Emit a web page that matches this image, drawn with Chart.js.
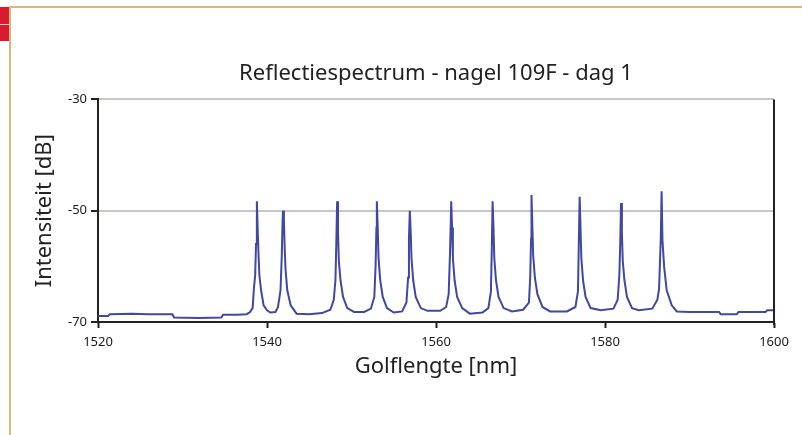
<!DOCTYPE html>
<html>
<head>
<meta charset="utf-8">
<script src="https://cdn.jsdelivr.net/npm/chart.js@4"></script>
<style>
	html, body { margin: 0; padding: 0; background: #fff; }
	canvas { display: block; }
</style>
</head>
<body>
<canvas id="spectrumChart" width="802" height="435"></canvas>
<script>
// wavelength [nm] and intensity [dB]
let wavelength = [
	1520.0, 1521.2, 1521.4, 1524.0, 1526.0, 1528.8, 1529.0, 1532.0, 1534.6, 1534.8, 1536.5, 1537.6,
	1538.0, 1538.3, 1538.45, 1538.6, 1538.7, 1538.8, 1538.9, 1539.0, 1539.1, 1539.3, 1539.6, 1540.0, 1540.4,
	1541.0, 1541.3, 1541.6, 1541.75, 1541.85, 1541.9, 1542.0, 1542.1, 1542.2, 1542.4, 1542.8, 1543.5,
	1545.0, 1546.5, 1547.5, 1547.9, 1548.1, 1548.2, 1548.3, 1548.4, 1548.5, 1548.7, 1549.0, 1549.5, 1550.3,
	1551.5, 1552.3, 1552.7, 1552.85, 1552.95, 1553.0, 1553.1, 1553.2, 1553.4, 1553.7, 1554.2, 1555.0,
	1556.0, 1556.5, 1556.7, 1556.8, 1556.9, 1557.0, 1557.1, 1557.3, 1557.6, 1558.2, 1559.0,
	1560.5, 1561.2, 1561.5, 1561.65, 1561.75, 1561.8, 1561.9, 1562.0, 1562.2, 1562.5, 1563.1, 1564.0,
	1565.5, 1566.2, 1566.5, 1566.6, 1566.7, 1566.8, 1566.9, 1567.1, 1567.4, 1568.0, 1569.0,
	1570.3, 1571.0, 1571.15, 1571.25, 1571.3, 1571.4, 1571.5, 1571.7, 1572.0, 1572.6, 1573.5,
	1575.5, 1576.5, 1576.8, 1576.9, 1577.0, 1577.1, 1577.2, 1577.4, 1577.7, 1578.3, 1579.5,
	1581.0, 1581.5, 1581.7, 1581.8, 1581.9, 1582.0, 1582.1, 1582.3, 1582.6, 1583.2, 1584.0,
	1585.6, 1586.2, 1586.4, 1586.6, 1586.7, 1586.8, 1587.0, 1587.3, 1587.9, 1588.5,
	1590.0, 1593.5, 1593.7, 1595.6, 1595.8, 1599.0, 1599.2, 1600.0
];
let intensity = [
	-68.9, -68.9, -68.6, -68.5, -68.6, -68.6, -69.2, -69.3, -69.2, -68.7, -68.7, -68.6,
	-68.2, -67.5, -64.0, -61.6, -56.0, -48.3, -53.5, -58.0, -61.6, -64.3, -67.0, -67.9, -68.3,
	-68.2, -67.3, -64.3, -58.0, -51.5, -50.0, -51.7, -57.0, -60.7, -64.3, -67.0, -68.5,
	-68.6, -68.4, -67.8, -66.0, -62.5, -56.0, -48.3, -53.5, -59.0, -62.5, -65.5, -67.5, -68.2,
	-68.2, -67.6, -65.5, -60.0, -53.0, -48.3, -53.0, -58.5, -62.5, -65.5, -67.5, -68.3,
	-68.1, -66.5, -62.0, -55.0, -50.0, -53.5, -58.5, -62.5, -65.5, -67.5, -68.0,
	-68.0, -67.3, -65.0, -58.0, -52.0, -48.3, -53.0, -58.5, -62.5, -65.5, -67.5, -68.5,
	-68.3, -67.5, -64.5, -57.0, -48.3, -53.0, -58.5, -62.5, -65.5, -67.5, -68.1,
	-67.8, -66.5, -62.0, -55.0, -47.2, -52.5, -58.0, -62.0, -65.0, -67.3, -68.1,
	-68.1, -67.3, -64.5, -56.0, -47.5, -53.0, -58.5, -62.5, -65.5, -67.5, -67.9,
	-67.6, -66.0, -61.5, -56.0, -48.6, -54.0, -59.0, -62.5, -65.5, -67.5, -67.9,
	-67.6, -66.0, -64.0, -55.0, -46.5, -55.3, -60.1, -64.3, -67.0, -68.1,
	-68.2, -68.2, -68.6, -68.6, -68.2, -68.2, -67.9, -67.9
];
let xTicks = [1520, 1540, 1560, 1580, 1600];
let yTicks = [-70, -50, -30];

let points = wavelength.map(function (w, i) {
	return { x: w, y: intensity[i] };
});

let framePlugin = {
	id: 'frame',
	beforeDraw: function (chart) {
		let ctx = chart.ctx;
		ctx.save();
		ctx.fillStyle = '#ffffff';
		ctx.fillRect(0, 0, chart.width, chart.height);
		// page decoration: tan rule on top and left, red tab
		ctx.fillStyle = '#d8b878';
		ctx.fillRect(9, 6, chart.width - 9, 2);
		ctx.fillRect(9, 6, 2, chart.height - 6);
		ctx.fillStyle = '#da1a2e';
		ctx.fillRect(0, 7, 9, 34);
		ctx.fillStyle = '#f3c4c8';
		ctx.fillRect(0, 24, 9, 1);
		ctx.restore();
	},
	afterDraw: function (chart) {
		let a = chart.chartArea;
		let ctx = chart.ctx;
		ctx.save();
		ctx.strokeStyle = '#222';
		ctx.lineWidth = 2;
		ctx.beginPath();
		ctx.moveTo(a.right, a.top);
		ctx.lineTo(a.right, a.bottom + 3);
		ctx.stroke();
		ctx.restore();
	}
};

let fontFamily = '"Noto Sans", "Open Sans", sans-serif';

let chart = new Chart("spectrumChart", {
	type: "scatter",
	data: {
		datasets: [{
			data: points,
			showLine: true,
			borderColor: "#3f48a2",
			borderWidth: 2,
			pointRadius: 0,
			tension: 0
		}]
	},
	options: {
		responsive: false,
		animation: false,
		layout: { padding: { left: 0, right: 28, top: 0, bottom: 0 } },
		plugins: {
			legend: { display: false },
			tooltip: { enabled: false },
			title: {
				display: true,
				fullSize: false,
				text: "Reflectiespectrum - nagel 109F - dag 1",
				color: "#222",
				font: { family: fontFamily, size: 22, weight: 'normal', lineHeight: 1.2 },
				padding: { top: 61, bottom: 12 }
			}
		},
		scales: {
			x: {
				type: 'linear',
				min: 1520,
				max: 1600,
				afterBuildTicks: function (scale) {
					scale.ticks = xTicks.map(function (v) { return { value: v }; });
				},
				afterFit: function (scale) { scale.height = 113; },
				border: { color: '#222', width: 2 },
				grid: { drawOnChartArea: false, drawTicks: true, tickLength: 6, tickColor: '#222', tickWidth: 2 },
				ticks: {
					color: '#1a1a1a',
					padding: 6,
					maxRotation: 0,
					font: { family: fontFamily, size: 13 },
					callback: function (value) { return String(value); }
				},
				title: {
					display: true,
					text: "Golflengte [nm]",
					color: "#222",
					font: { family: fontFamily, size: 22, lineHeight: 1.2 },
					padding: { top: 0, bottom: 55 }
				}
			},
			y: {
				min: -70,
				max: -30,
				afterBuildTicks: function (scale) {
					scale.ticks = yTicks.map(function (v) { return { value: v }; });
				},
				afterFit: function (scale) { scale.width = 98; },
				border: { color: '#222', width: 2 },
				grid: { color: '#c3c6ca', lineWidth: 2, tickLength: 7, tickColor: '#222', tickWidth: 2 },
				ticks: {
					color: '#1a1a1a',
					padding: 4,
					font: { family: fontFamily, size: 13 },
					callback: function (value) { return String(value); }
				},
				title: {
					display: true,
					text: "Intensiteit [dB]",
					color: "#222",
					font: { family: fontFamily, size: 22, lineHeight: 1.2 },
					padding: { top: 32, bottom: 0 }
				}
			}
		}
	},
	plugins: [framePlugin]
});
</script>
</body>
</html>
